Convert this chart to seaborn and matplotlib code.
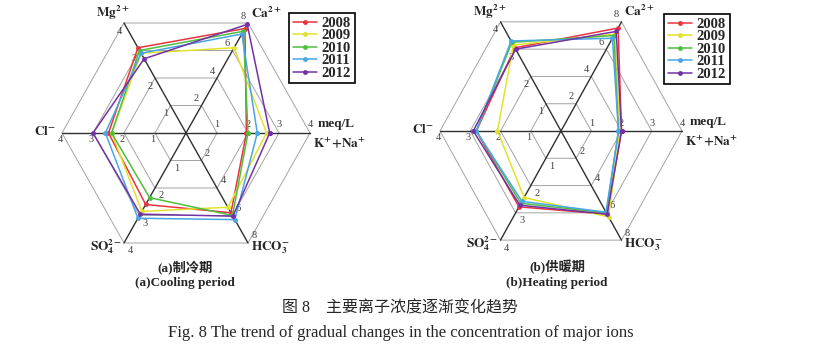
import numpy as np
import pandas as pd
import matplotlib.pyplot as plt
import seaborn as sns

# radar axes, counter-clockwise from the right
ions = ["K+Na", "Ca", "Mg", "Cl", "SO4", "HCO3"]
angles = [0, 60, 120, 180, 240, 300]
axis_max = [4, 8, 4, 4, 4, 8]
tick_vals = [[1, 2, 3, 4], [2, 4, 6, 8], [1, 2, 3, 4],
             [1, 2, 3, 4], [1, 2, 3, 4], [2, 4, 6, 8]]
years = ["2008", "2009", "2010", "2011", "2012"]
colors = ["#e8343f", "#e2e22e", "#4fbf3f", "#4aa6e2", "#7232a4"]

# meq/L, one row per year, columns in the order of `ions`
cooling = [
    [1.95, 7.6, 3.1, 2.5, 2.6, 5.8],
    [2.6, 6.2, 2.9, 2.4, 2.85, 5.4],
    [2.0, 7.4, 3.0, 2.4, 2.35, 6.0],
    [2.3, 7.2, 2.9, 2.6, 3.1, 6.3],
    [2.7, 7.9, 2.7, 3.0, 2.95, 6.05],
]
heating = [
    [2.0, 7.55, 3.05, 2.8, 2.78, 6.1],
    [1.95, 7.1, 3.15, 2.1, 2.44, 6.3],
    [1.9, 7.0, 3.25, 2.8, 2.65, 6.0],
    [1.9, 6.8, 3.3, 2.8, 2.58, 5.95],
    [2.0, 7.3, 3.0, 2.9, 2.72, 6.1],
]

axis_names = {
    "Ca": (r"$\mathbf{Ca^{2+}}$", (3, 10), "left"),
    "Mg": (r"$\mathbf{Mg^{2+}}$", (6, 10), "right"),
    "Cl": (r"$\mathbf{Cl^{-}}$", (-6, 1), "right"),
    "SO4": (r"$\mathbf{SO_{4}^{2-}}$", (-2, -4), "right"),
    "HCO3": (r"$\mathbf{HCO_{3}^{-}}$", (3, -5), "left"),
}
tick_offsets = [(0, 8), (-5, 7), (-5, -8), (-2, -7), (6, -8), (6, 7)]

sns.set_theme(style="white")
plt.rcParams["font.family"] = ["Liberation Serif", "Noto Sans CJK SC"]
plt.rcParams["mathtext.fontset"] = "stix"

W, H = 831, 355
fig = plt.figure(figsize=(W / 100, H / 100), dpi=100)


def to_frame(vals):
    rows = []
    for year, row in zip(years, vals):
        for i in list(range(len(ions))) + [0]:
            f = row[i] / axis_max[i]
            t = np.deg2rad(angles[i])
            rows.append({"year": year, "x": f * np.cos(t), "y": f * np.sin(t)})
    return pd.DataFrame(rows)


def radar(vals, cx, cy, sx, sy, leg_xy):
    ax = fig.add_axes([(cx - 1.3 * sx) / W, (H - cy - 1.1 * sy) / H,
                       2.6 * sx / W, 2.2 * sy / H])
    ax.set_xlim(-1.3, 1.3)
    ax.set_ylim(-1.1, 1.1)
    t = np.deg2rad(angles + [0])
    # hexagon grid
    for f in [0.25, 0.5, 0.75, 1.0]:
        ax.plot(f * np.cos(t), f * np.sin(t), color="#a3a3a3", lw=0.7, zorder=1)
    for a in angles[:3]:
        r = np.deg2rad(a)
        ax.plot([-np.cos(r), np.cos(r)], [-np.sin(r), np.sin(r)],
                color="#303030", lw=1.0, zorder=2)
    # tick numbers
    for i, a in enumerate(angles):
        r = np.deg2rad(a)
        for v in tick_vals[i]:
            f = v / axis_max[i]
            ax.annotate(str(v), (f * np.cos(r), f * np.sin(r)),
                        xytext=tick_offsets[i], textcoords="offset pixels",
                        ha="center", va="center", fontsize=7.5, color="#404040")
    # axis names
    for i, name in enumerate(ions):
        r = np.deg2rad(angles[i])
        p = (np.cos(r), np.sin(r))
        if name == "K+Na":
            ax.annotate("meq/L", p, xytext=(8, 9), textcoords="offset pixels",
                        ha="left", va="center", fontsize=9.5, fontweight="bold")
            ax.annotate(r"$\mathbf{K^{+}{+}Na^{+}}$", p, xytext=(3, -10),
                        textcoords="offset pixels", ha="left", va="center",
                        fontsize=9.5)
        else:
            label, off, ha = axis_names[name]
            ax.annotate(label, p, xytext=off, textcoords="offset pixels",
                        ha=ha, va="center", fontsize=9.5)

    sns.lineplot(data=to_frame(vals), x="x", y="y", hue="year", palette=colors,
                 sort=False, estimator=None, marker="o", markersize=3.5,
                 markeredgewidth=0, linewidth=1.1, ax=ax, zorder=3)
    ax.axis("off")
    h, l = ax.get_legend_handles_labels()
    leg = ax.legend(h, l, loc="upper left", bbox_to_anchor=leg_xy,
                    bbox_transform=fig.transFigure, frameon=True, fancybox=False,
                    edgecolor="black", framealpha=1, borderpad=0.25,
                    handlelength=1.7, handletextpad=0.3, labelspacing=-0.05,
                    borderaxespad=0, prop={"size": 10.5, "weight": "bold"})
    leg.get_frame().set_linewidth(1.2)
    return ax


radar(cooling, 186, 133, 124, 127, (289 / W, 1 - 13 / H))
radar(heating, 561, 131, 121, 126, (664 / W, 1 - 14 / H))

fig.text(185 / W, 1 - 267 / H, "(a)制冷期", ha="center", va="center",
         fontsize=9.5, fontweight="bold")
fig.text(185 / W, 1 - 283 / H, "(a)Cooling period", ha="center", va="center",
         fontsize=9.5, fontweight="bold")
fig.text(557 / W, 1 - 267 / H, "(b)供暖期", ha="center", va="center",
         fontsize=9.5, fontweight="bold")
fig.text(557 / W, 1 - 283 / H, "(b)Heating period", ha="center", va="center",
         fontsize=9.5, fontweight="bold")
fig.text(400 / W, 1 - 308 / H, "图 8    主要离子浓度逐渐变化趋势", ha="center",
         va="center", fontsize=11.5)
fig.text(401 / W, 1 - 333 / H,
         "Fig. 8 The trend of gradual changes in the concentration of major ions",
         ha="center", va="center", fontsize=12)

fig.savefig("out.png", dpi=100)
